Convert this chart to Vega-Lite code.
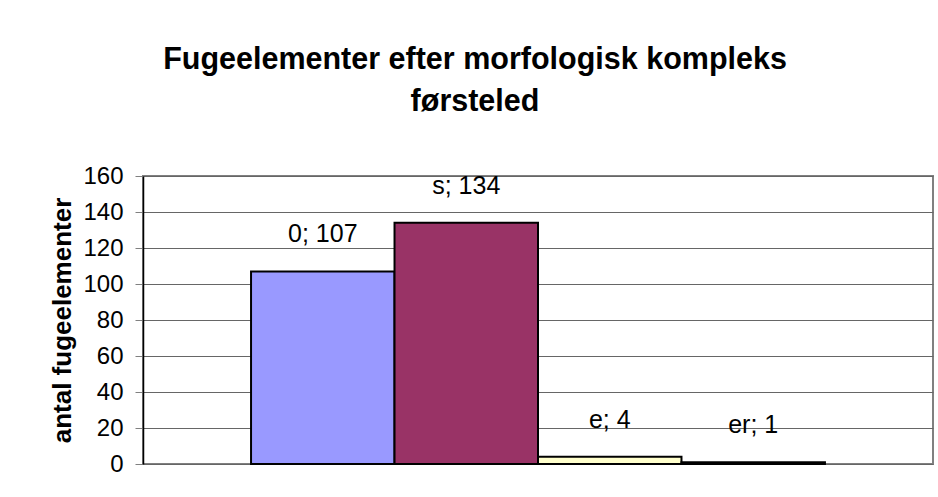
{
  "$schema": "https://vega.github.io/schema/vega-lite/v6.json",
  "width": 790,
  "height": 288,
  "autosize": {"type": "none"},
  "padding": {"left": 143, "top": 176, "right": 5, "bottom": 33},
  "background": "white",
  "title": {
    "text": ["Fugeelementer efter morfologisk kompleks", "førsteled"],
    "font": "Liberation Sans",
    "fontSize": 30.5,
    "fontWeight": "bold",
    "color": "black",
    "lineHeight": 42,
    "anchor": "middle",
    "dx": -63,
    "offset": 47
  },
  "data": {
    "values": [
      {"series": "0", "value": 107, "label": "0; 107"},
      {"series": "s", "value": 134, "label": "s; 134"},
      {"series": "e", "value": 4, "label": "e; 4"},
      {"series": "er", "value": 1, "label": "er; 1"}
    ]
  },
  "encoding": {
    "x": {
      "field": "series",
      "type": "nominal",
      "sort": ["0", "s", "e", "er"],
      "scale": {"paddingInner": 0, "paddingOuter": 0.753},
      "axis": null
    },
    "y": {
      "field": "value",
      "type": "quantitative",
      "scale": {"domain": [0, 160], "nice": false},
      "axis": {
        "title": "antal fugeelementer",
        "titleFont": "Liberation Sans",
        "titleFontSize": 26,
        "titleFontWeight": "bold",
        "titleColor": "black",
        "titlePadding": 7,
        "values": [0, 20, 40, 60, 80, 100, 120, 140, 160],
        "labelFont": "Liberation Sans",
        "labelFontSize": 24,
        "labelColor": "black",
        "labelPadding": 12,
        "tickSize": 8,
        "tickColor": "#808080",
        "domainColor": "black",
        "domainWidth": 1.5,
        "gridColor": "#666666",
        "gridWidth": 1,
        "gridOpacity": 1
      }
    }
  },
  "layer": [
    {
      "mark": {"type": "bar", "stroke": "black", "strokeWidth": 2},
      "encoding": {
        "color": {
          "field": "series",
          "type": "nominal",
          "scale": {"domain": ["0", "s", "e", "er"], "range": ["#9999FF", "#993366", "#FFFFCC", "#CCFFFF"]},
          "legend": null
        }
      }
    },
    {
      "mark": {"type": "text", "font": "Liberation Sans", "fontSize": 25, "color": "black", "baseline": "alphabetic", "dy": -29},
      "encoding": {"text": {"field": "label"}}
    }
  ],
  "config": {
    "view": {"stroke": "#808080", "strokeWidth": 2}
  }
}
